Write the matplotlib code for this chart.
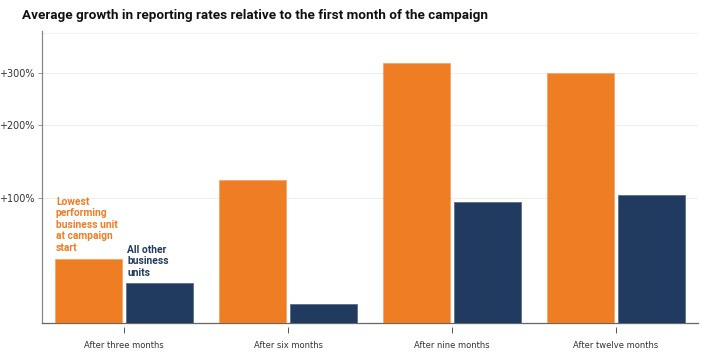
import matplotlib.pyplot as plt
import matplotlib.transforms as mtransforms
import numpy as np

categories = ["After three months", "After six months", "After nine months", "After twelve months"]
lowest_unit = [43, 121, 323, 300]   # % growth
other_units = [25, 11, 96, 103]     # % growth
ytick_vals = [100, 200, 300]
ytick_labels = ["+100%", "+200%", "+300%"]

orange = "#EE7D24"
navy = "#213B60"

fig = plt.figure(figsize=(7.2, 3.55), dpi=100)
ax = fig.add_axes([42/720, 1 - 323/355, 656/720, 292/355])

x = np.arange(len(categories))
w = 0.41
# growth shown on log scale of the ratio (1 + growth)
ax.bar(x - w/2 - 0.012, [1 + v/100 for v in lowest_unit], w, bottom=0, color=orange,
       edgecolor="#F3A56A", linewidth=0.6, zorder=3)
ax.bar(x + w/2 + 0.012, [1 + v/100 for v in other_units], w, bottom=0, color=navy,
       edgecolor="#5A6E8C", linewidth=0.6, zorder=3)

ax.set_yscale("log")
ax.set_ylim(1, 5.05)
ax.set_xlim(-0.5, 3.5)

ax.set_yticks([1 + v/100 for v in ytick_vals])
ax.set_yticklabels(ytick_labels)
ax.yaxis.set_minor_locator(plt.NullLocator())
ax.set_xticks(x)
ax.set_xticklabels(categories)

ax.grid(axis="y", color="#EEEEEE", linewidth=0.8, zorder=0)
ax.axhline(5.0, color="#F2F2F2", linewidth=0.8, zorder=0)

for s in ["top", "right"]:
    ax.spines[s].set_visible(False)
ax.spines["left"].set_color("#888888")
ax.spines["bottom"].set_color("#666666")
ax.spines["left"].set_linewidth(0.9)
ax.spines["bottom"].set_linewidth(0.9)

ax.tick_params(axis="y", length=3, width=0.6, color="#888888", labelsize=6.9,
               labelcolor="#333333", pad=1.5)
ax.tick_params(axis="x", length=0, labelsize=6, labelcolor="#333333", pad=13)

# detached category ticks below the axis
trans = mtransforms.blended_transform_factory(ax.transData, ax.transAxes)
ax.vlines(x, -0.014, -0.035, color="#555555", linewidth=0.7, transform=trans, clip_on=False)

ax.text(-0.5 + 14/164, 1.475, "Lowest\nperforming\nbusiness unit\nat campaign\nstart",
        color=orange, fontsize=7.4, fontweight="bold",
        family="Roboto", ha="left", va="bottom", linespacing=1.2)
ax.text(0.0 + 3/164, 1.285, "All other\nbusiness\nunits", color=navy, fontsize=7.4,
        fontweight="bold", family="Roboto", ha="left", va="bottom", linespacing=1.2)

fig.text(22/720, 1 - 15/355, "Average growth in reporting rates relative to the first month of the campaign",
         fontsize=9.7, fontweight="bold", family="Roboto", fontstretch="condensed",
         color="#111111", va="center", ha="left")

fig.savefig("out.png", dpi=100)
